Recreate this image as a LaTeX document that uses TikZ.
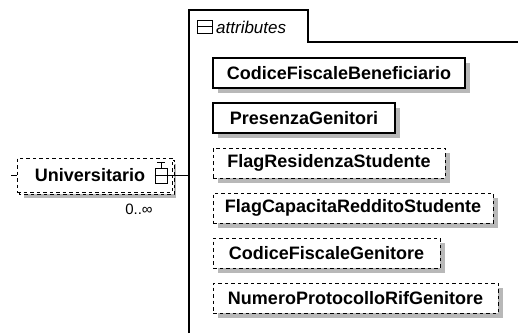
\documentclass[tikz,border=0pt]{standalone}
\usepackage{fontspec}
\setmainfont{Liberation Sans}
\usetikzlibrary{patterns}
\newcommand\xsdbox[6]{%
  \fill[shadowfill] ({#2+5},{#4-15+5}) rectangle ({#3+5},{#4+15+5});
  \node[#5, minimum width={#3-#2}] (#1) at ({(#2+#3)/2},#4) {#6};}
\begin{document}
\begin{tikzpicture}[x=1pt,y=-1pt,
  elem/.style={draw, fill=white, font=\fontsize{18}{20}\selectfont\bfseries, inner sep=0pt, minimum height=30pt, anchor=center},
  req/.style={elem, line width=1.5pt},
  opt/.style={elem, dash pattern=on 3.5pt off 3pt, line width=1pt},
  shadowfill/.style={fill=black!28},
  frameline/.style={line width=1.3pt},
  iconbox/.style={draw, fill=white, inner sep=0pt, line width=1pt}]
\useasboundingbox (0,0) rectangle (518,333);
% attributes frame
\coordinate (ftl) at (189,10);
\coordinate (ftr) at (308,10);
\coordinate (fbr) at (308,42);
\coordinate (fre) at (518,42);
\coordinate (fbl) at (189,333);
\draw[frameline] (fbl) -- (ftl) -- (ftr) -- (fbr) -- (fre);
\node[iconbox, minimum width=15pt, minimum height=13pt] (tabicon) at (204.5,26.5) {};
\draw[line width=1pt] (tabicon.west) -- (tabicon.east);
\node[anchor=west, font=\fontsize{17}{20}\selectfont\itshape, inner sep=0pt] (attr) at (216,27) {attributes};
% attribute boxes
\xsdbox{cfb}{213}{465}{73}{req}{CodiceFiscaleBeneficiario}
\xsdbox{pg}{213}{395}{118}{req}{PresenzaGenitori}
\xsdbox{frs}{213}{445}{163}{opt}{FlagResidenzaStudente}
\xsdbox{fcrs}{213}{493}{208}{opt}{FlagCapacitaRedditoStudente}
\xsdbox{cfg}{213}{440}{253}{opt}{CodiceFiscaleGenitore}
\xsdbox{nprg}{213}{498}{298}{opt}{NumeroProtocolloRifGenitore}
% Universitario element
\fill[shadowfill] (24,164) rectangle (176,198);
\draw[dash pattern=on 3.5pt off 3pt, line width=1pt, fill=white] (19,160) rectangle (174,194);
\node[draw, fill=white, dash pattern=on 3.5pt off 3pt, line width=1pt, minimum width=155pt, minimum height=34pt, inner sep=0pt] (uni) at (94.5,175) {};
\node[font=\fontsize{18}{20}\selectfont\bfseries, inner sep=0pt] (unitext) at (90,175) {Universitario};
\node[iconbox, minimum width=12pt, minimum height=15pt] (uicon) at (161,175.5) {};
\draw[line width=1pt] (uicon.west) -- (uicon.east);
\draw[line width=1pt] (uicon.north) -- ++(0,-5) coordinate (stemtop);
\draw[line width=1pt] ([xshift=-4pt]stemtop) -- ([xshift=4pt]stemtop);
\draw[line width=1pt] (uicon.east) -- (uicon.east -| ftl);
\coordinate (stub) at (11,175);
\draw[line width=1pt] (stub) -- (uni.west);
\node[font=\fontsize{15}{17}\selectfont, inner sep=0pt] (mult) at (139,209) {0..∞};
\end{tikzpicture}
\end{document}
